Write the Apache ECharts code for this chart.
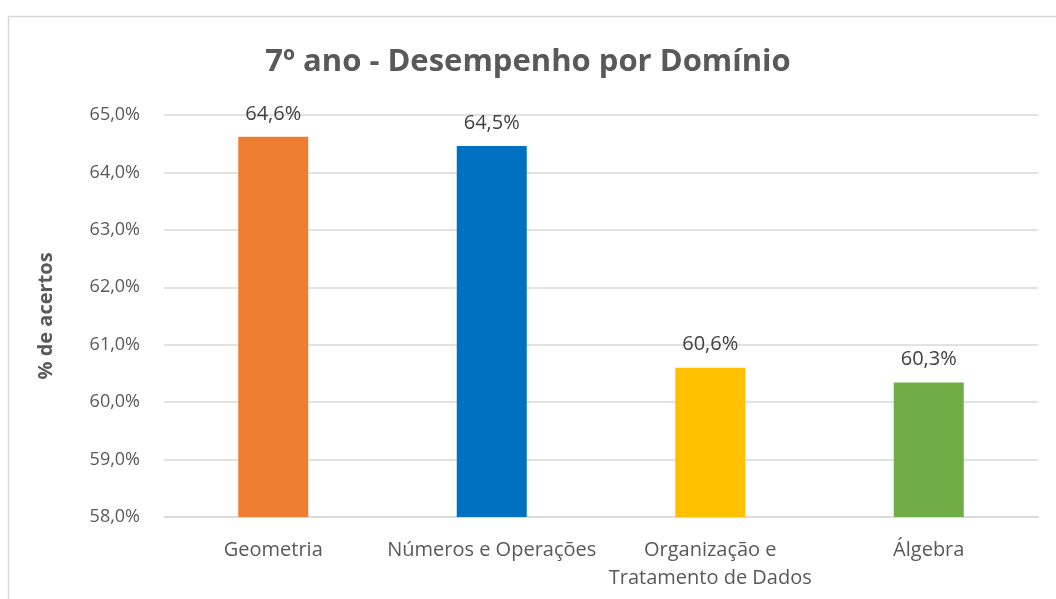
<!DOCTYPE html>
<html>
<head>
<meta charset="utf-8">
<title>7º ano - Desempenho por Domínio</title>
<script src="https://cdn.jsdelivr.net/npm/echarts@6/dist/echarts.min.js"></script>
<style>
  html, body { margin: 0; padding: 0; background: #fff; }
  #chart { width: 1056px; height: 599px; }
</style>
</head>
<body>
<div id="chart"></div>
<script>
// dados
const categories = ['Geometria', 'Números e Operações', 'Organização e\nTratamento de Dados', 'Álgebra']
const values = [64.62, 64.46, 60.6, 60.34]
const barColors = ['#ED7D31', '#0070C0', '#FFC000', '#70AD47']
const yTicks = { min: 58, max: 65, interval: 1 }

const fmt = v => v.toFixed(1).replace('.', ',') + '%'
const font = '"Open Sans", "Noto Sans", sans-serif'

const chart = echarts.init(document.getElementById('chart'))

chart.setOption({
  animation: false,
  textStyle: { fontFamily: font },
  title: {
    text: '7º ano - Desempenho por Domínio',
    left: 'center',
    top: 42,
    textStyle: { fontFamily: font, fontSize: 31, fontWeight: 'bold', color: '#595959' }
  },
  graphic: [
    {
      type: 'rect',
      shape: { x: 8.5, y: 16.5, width: 1100, height: 700 },
      style: { fill: 'none', stroke: '#d9d9d9', lineWidth: 1.5 },
      silent: true
    }
  ],
  grid: { left: 164, right: 18, top: 115, bottom: 82 },
  xAxis: {
    type: 'category',
    data: categories,
    axisLine: { lineStyle: { color: '#d9d9d9', width: 1.5 } },
    axisTick: { show: false },
    axisLabel: { color: '#595959', fontSize: 20, margin: 19, lineHeight: 28, interval: 0, fontFamily: font }
  },
  yAxis: {
    type: 'value',
    min: yTicks.min,
    max: yTicks.max,
    interval: yTicks.interval,
    name: '% de acertos',
    nameLocation: 'middle',
    nameGap: 108,
    nameTextStyle: { color: '#595959', fontSize: 20, fontWeight: 'bold', fontFamily: font },
    axisLine: { show: false },
    axisTick: { show: false },
    axisLabel: { color: '#595959', fontSize: 18, margin: 24, formatter: v => fmt(v), fontFamily: font },
    splitLine: { lineStyle: { color: '#d9d9d9', width: 1.5 } }
  },
  series: [
    {
      type: 'bar',
      barWidth: 70,
      data: values.map((v, i) => ({ value: v, itemStyle: { color: barColors[i] } })),
      label: {
        show: true,
        position: 'top',
        distance: 13,
        color: '#404040',
        fontSize: 20,
        fontFamily: font,
        formatter: p => fmt(p.value)
      }
    }
  ]
})
</script>
</body>
</html>
